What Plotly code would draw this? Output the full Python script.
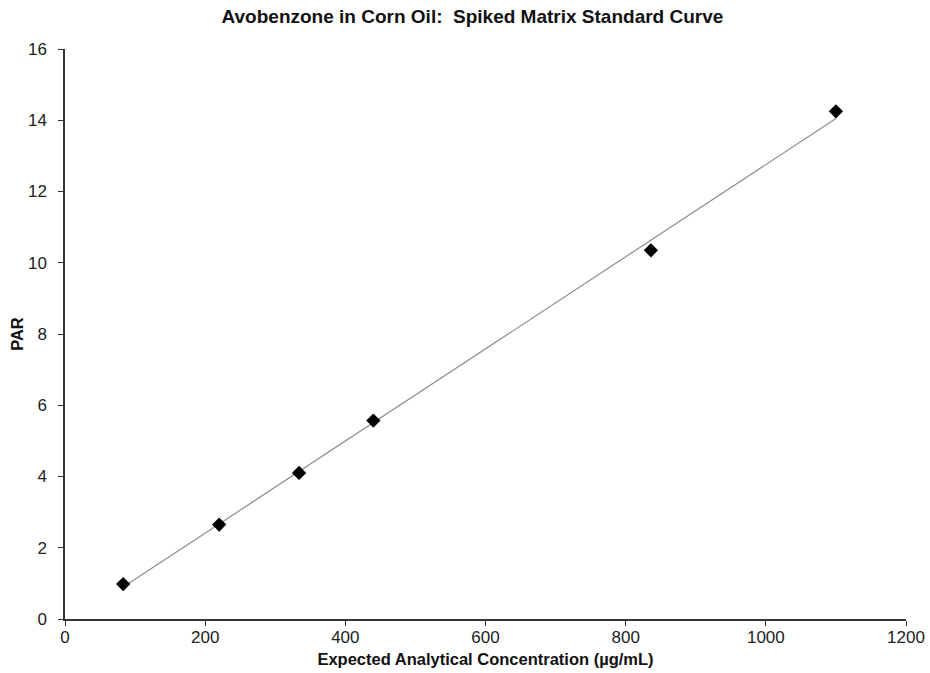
import numpy as np
import plotly.graph_objects as go

conc = [83, 220, 334, 440, 836, 1100]
par = [0.98, 2.65, 4.10, 5.57, 10.35, 14.25]

slope, intercept = np.polyfit(conc, par, 1)
fit_x = [min(conc), max(conc)]
fit_y = [slope * v + intercept for v in fit_x]

fig = go.Figure()
fig.add_trace(go.Scatter(x=fit_x, y=fit_y, mode="lines",
                         line=dict(color="#8c8c8c", width=1.2), showlegend=False))
fig.add_trace(go.Scatter(x=conc, y=par, mode="markers",
                         marker=dict(symbol="diamond", size=11, color="black"),
                         showlegend=False))

font = "Liberation Sans, Arial, sans-serif"
fig.update_layout(
    width=930, height=673,
    margin=dict(l=65, r=24, t=49, b=54),
    paper_bgcolor="white", plot_bgcolor="white",
    title=dict(text="<b>Avobenzone in Corn Oil:  Spiked Matrix Standard Curve</b>",
               x=0.508, xanchor="center", y=0.975, yanchor="middle",
               font=dict(family=font, size=19, color="#111")),
    xaxis=dict(range=[0, 1200], tickvals=[0, 200, 400, 600, 800, 1000, 1200],
               automargin=False,
               showgrid=False, zeroline=False, showline=True, linecolor="#333", linewidth=1.5,
               ticks="outside", ticklen=5, tickcolor="#333", tickwidth=1.2,
               ticklabelstandoff=-3,
               tickfont=dict(family=font, size=17, color="#222"),
               title=dict(text="<b>Expected Analytical Concentration (µg/mL)</b>",
                          font=dict(family=font, size=16.5, color="#111"), standoff=7)),
    yaxis=dict(range=[0, 16], tickvals=[0, 2, 4, 6, 8, 10, 12, 14, 16],
               automargin=False,
               showgrid=False, zeroline=False, showline=True, linecolor="#333", linewidth=1.5,
               ticks="outside", ticklen=5, tickcolor="#333", tickwidth=1.2,
               ticklabelstandoff=8,
               tickfont=dict(family=font, size=17, color="#222"),
               title=dict(text="<b>PAR</b>", font=dict(family=font, size=16.5, color="#111"),
                          standoff=0)),
)
fig.write_html("out.html", post_script="document.body.style.margin='0';",
               config={"displayModeBar": False})
